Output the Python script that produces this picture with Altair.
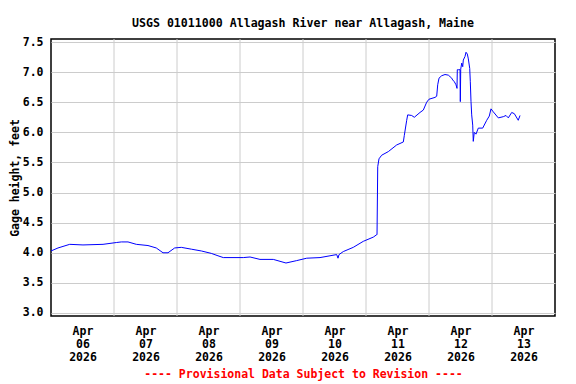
import altair as alt
import pandas as pd

# ---- data ----
times = [
    "2026-04-06T00:00", "2026-04-06T02:40", "2026-04-06T07:08", "2026-04-06T12:11", "2026-04-06T19:49",
    "2026-04-07T00:53", "2026-04-07T02:47", "2026-04-07T05:20", "2026-04-07T08:30", "2026-04-07T12:57",
    "2026-04-07T16:06", "2026-04-07T18:40", "2026-04-07T20:34", "2026-04-07T23:07",
    "2026-04-08T01:38", "2026-04-08T05:27", "2026-04-08T09:16", "2026-04-08T13:03", "2026-04-08T15:37",
    "2026-04-08T17:38",
    "2026-04-09T01:15", "2026-04-09T03:49", "2026-04-09T07:37", "2026-04-09T12:41", "2026-04-09T17:31",
    "2026-04-09T21:36",
    "2026-04-10T01:25", "2026-04-10T06:29", "2026-04-10T10:17", "2026-04-10T12:50", "2026-04-10T13:20",
    "2026-04-10T13:43", "2026-04-10T15:21", "2026-04-10T19:09", "2026-04-10T22:58",
    "2026-04-11T02:47", "2026-04-11T04:04", "2026-04-11T04:12", "2026-04-11T04:28", "2026-04-11T04:57",
    "2026-04-11T05:58", "2026-04-11T08:30", "2026-04-11T11:41", "2026-04-11T14:13", "2026-04-11T14:36",
    "2026-04-11T15:30", "2026-04-11T15:53", "2026-04-11T17:24", "2026-04-11T18:24", "2026-04-11T20:34",
    "2026-04-11T21:50", "2026-04-11T23:07",
    "2026-04-12T00:00", "2026-04-12T02:17", "2026-04-12T02:56", "2026-04-12T03:19", "2026-04-12T03:49",
    "2026-04-12T04:50", "2026-04-12T06:06", "2026-04-12T07:22", "2026-04-12T08:39", "2026-04-12T09:02",
    "2026-04-12T09:39", "2026-04-12T10:17", "2026-04-12T10:40", "2026-04-12T10:47", "2026-04-12T11:10",
    "2026-04-12T11:49", "2026-04-12T11:56", "2026-04-12T12:05", "2026-04-12T12:28", "2026-04-12T12:51",
    "2026-04-12T13:04", "2026-04-12T13:43", "2026-04-12T14:06", "2026-04-12T14:36", "2026-04-12T14:59",
    "2026-04-12T15:31", "2026-04-12T15:44", "2026-04-12T16:00", "2026-04-12T16:16", "2026-04-12T16:39",
    "2026-04-12T16:52", "2026-04-12T17:15", "2026-04-12T17:54", "2026-04-12T18:47", "2026-04-12T20:27",
    "2026-04-12T21:59", "2026-04-12T22:58", "2026-04-12T23:37",
    "2026-04-13T00:30", "2026-04-13T02:24", "2026-04-13T04:18", "2026-04-13T05:20", "2026-04-13T06:13",
    "2026-04-13T07:30", "2026-04-13T08:30", "2026-04-13T10:00", "2026-04-13T10:40",
]
gage_height = [
    4.03, 4.08, 4.14, 4.13, 4.14,
    4.17, 4.18, 4.18, 4.14, 4.12,
    4.08, 4.00, 4.00, 4.08,
    4.09, 4.06, 4.03, 3.99, 3.95,
    3.92,
    3.92, 3.93, 3.89, 3.89, 3.83,
    3.87,
    3.91, 3.92, 3.95, 3.97, 3.91,
    3.97, 4.02, 4.09, 4.19,
    4.26, 4.30, 4.30, 5.43, 5.56,
    5.62, 5.68, 5.79, 5.84, 5.95,
    6.20, 6.29, 6.28, 6.25, 6.33,
    6.37, 6.50,
    6.55, 6.58, 6.60, 6.79, 6.90,
    6.94, 6.96, 6.95, 6.90, 6.87,
    6.84, 6.79, 6.73, 7.04, 7.04,
    7.04, 6.51, 7.05, 7.15, 7.09,
    7.20, 7.26, 7.33, 7.30, 7.22,
    7.06, 6.84, 6.51, 6.29, 6.12,
    5.85, 6.00, 5.97, 6.07, 6.07,
    6.20, 6.27, 6.39,
    6.34, 6.24, 6.26, 6.28, 6.24,
    6.33, 6.31, 6.20, 6.28,
]
day_boundaries = ["2026-04-07T00:00", "2026-04-08T00:00", "2026-04-09T00:00", "2026-04-10T00:00",
                  "2026-04-11T00:00", "2026-04-12T00:00", "2026-04-13T00:00"]
label_days = [6, 7, 8, 9, 10, 11, 12, 13]
y_ticks = [3.0, 3.5, 4.0, 4.5, 5.0, 5.5, 6.0, 6.5, 7.0, 7.5]

title_text = "USGS 01011000 Allagash River near Allagash, Maine"
y_title = "Gage height, feet"
x_title = "---- Provisional Data Subject to Revision ----"

FONT = "DejaVu Sans Mono"
GRID = "#cccccc"

df = pd.DataFrame({"time": times, "gage": gage_height})
grid_df = pd.DataFrame({"time": day_boundaries})

x_scale = alt.Scale(domain=[alt.DateTime(year=2026, month=4, date=6),
                            alt.DateTime(year=2026, month=4, date=14)])
y_scale = alt.Scale(domain=[2.95, 7.55], nice=False, zero=False)

x_axis = alt.Axis(
    values=[alt.DateTime(year=2026, month=4, date=d, hours=12) for d in label_days],
    labelExpr="[timeFormat(datum.value, '%b'), timeFormat(datum.value, '%d'), timeFormat(datum.value, '%Y')]",
    grid=False, ticks=False, tickSize=0, domain=False,
    labelFont=FONT, labelFontWeight="bold", labelFontSize=11.5, labelColor="black",
    labelLineHeight=13, labelPadding=9, labelFlush=False, labelOverlap=False,
    title=x_title, titleFont=FONT, titleFontWeight="bold", titleFontSize=11.5,
    titleColor="red", titlePadding=6,
)

y_axis = alt.Axis(
    values=y_ticks, format=".1f",
    grid=True, gridColor=GRID, gridWidth=1, ticks=False, tickSize=0, domain=False,
    labelFont=FONT, labelFontWeight="bold", labelFontSize=11.5, labelColor="black",
    labelPadding=8,
    title=y_title, titleFont=FONT, titleFontWeight="bold", titleFontSize=11.5,
    titleColor="black", titlePadding=2,
)

grid = alt.Chart(grid_df).mark_rule(color=GRID, strokeWidth=1).encode(
    x=alt.X("time:T", scale=x_scale, axis=x_axis),
)

line = alt.Chart(df).mark_line(color="#0000ff", strokeWidth=1).encode(
    x=alt.X("time:T", scale=x_scale, axis=x_axis),
    y=alt.Y("gage:Q", scale=y_scale, axis=y_axis),
)

chart = alt.layer(grid, line).properties(
    width=504, height=277,
    autosize=alt.AutoSizeParams(type="none"),
    padding={"left": 43, "top": 31, "right": 13, "bottom": 68},
    title=alt.TitleParams(title_text, font=FONT, fontWeight="bold", fontSize=11.6,
                          anchor="middle", baseline="alphabetic", offset=14, dy=17,
                          color="black"),
).configure(
    background="white",
).configure_view(
    stroke="black", strokeWidth=1.5,
)

chart.save("out.html", embed_options={"renderer": "svg", "actions": False})
